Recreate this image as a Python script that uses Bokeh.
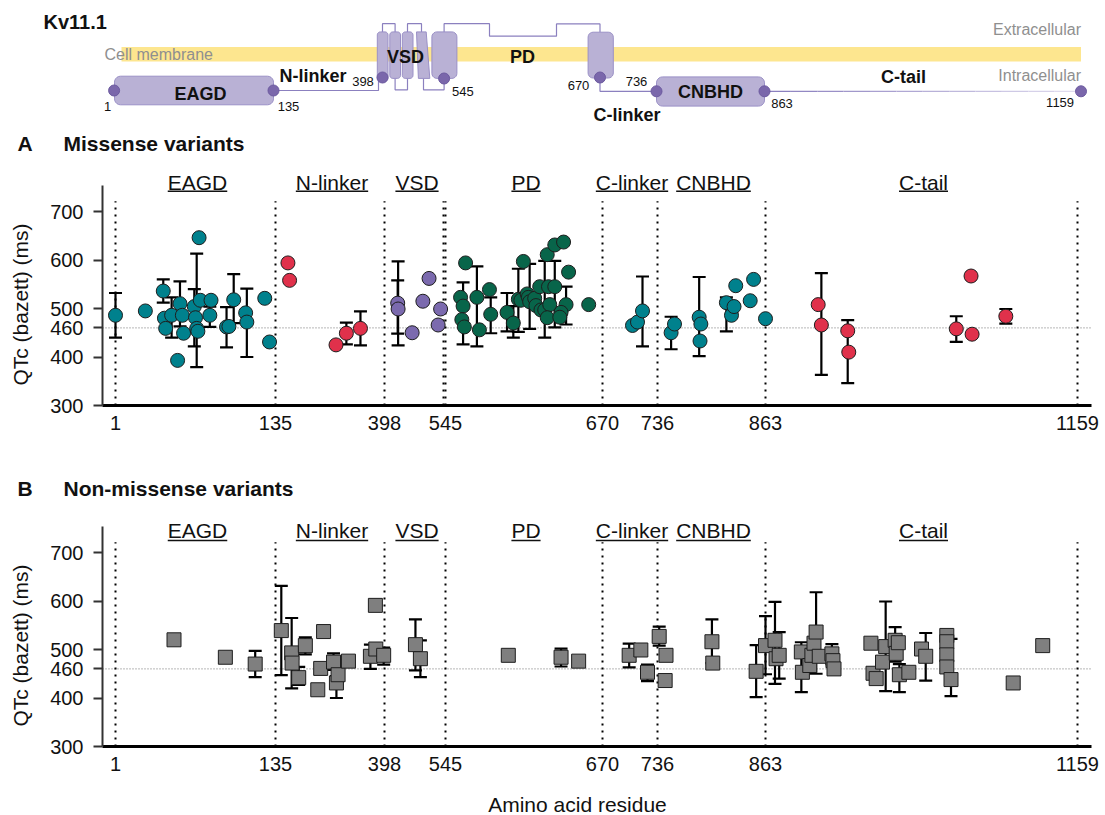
import numpy as np
from bokeh.plotting import figure
from bokeh.layouts import column, row
from bokeh.models import Range1d, FixedTicker, Span
from bokeh.core.properties import value
from bokeh.embed import file_html
from bokeh.resources import INLINE

FONT = "Liberation Sans"

# ---------------- data ----------------
domains = ["EAGD", "N-linker", "VSD", "PD", "C-linker", "CNBHD", "C-tail"]
domain_edges = [1, 135, 398, 545, 670, 736, 863, 1159]
residue_ticks = [1, 135, 398, 545, 670, 736, 863, 1159]
qtc_ticks = [300, 400, 460, 500, 600, 700]
qtc_cutoff = 460

# Panel A - missense variants
eagd_res = [1, 26, 41, 42, 43, 48, 53, 55, 57, 58, 67, 68, 69, 70, 71, 72, 81, 80, 94, 96, 100, 110, 111, 126, 130]
eagd_qtc = [486, 495, 536, 480, 459, 486, 393, 510, 486, 449, 504, 481, 459, 453, 646, 517, 517, 486, 462, 463, 518, 491, 472, 521, 431]
eagd_bar_res = [1, 41, 48, 55, 67, 69, 80, 94, 100, 111]
eagd_bar_lo = [440, 512, 440, 463, 422, 379, 462, 420, 470, 400]
eagd_bar_hi = [532, 560, 523, 556, 540, 613, 504, 503, 571, 541]

nlink_res = [165, 169, 281, 306, 340]
nlink_qtc = [594, 558, 425, 449, 459]
nlink_bar_res = [306, 340]
nlink_bar_lo = [426, 424]
nlink_bar_hi = [471, 494]

vsd_res = [430, 431, 465, 491, 506, 528, 534]
vsd_qtc = [511, 499, 450, 515, 562, 466, 499]
vsd_bar_res = [430, 431]
vsd_bar_lo = [448, 424]
vsd_bar_hi = [558, 597]

pd_res = [561, 557, 559, 558, 560, 570, 572, 580, 581, 594, 599, 603, 607, 605, 610, 611, 612,
          616, 617, 620, 621, 624, 627, 628, 626, 626, 632, 639, 632, 643, 641, 637, 636, 659]
pd_qtc = [594, 523, 505, 477, 462, 523, 456, 539, 488, 492, 470, 519, 597, 517, 530, 523, 514,
          521, 506, 545, 497, 497, 545, 508, 481, 611, 631, 637, 545, 575, 508, 492, 482, 508]
pd_bar_res = [559, 570, 581, 594, 599, 603, 612, 624, 632, 641]
pd_bar_lo = [426, 422, 449, 453, 440, 452, 458, 440, 461, 467]
pd_bar_hi = [554, 587, 523, 532, 505, 582, 592, 598, 598, 545]

clink_res = [706, 712, 718]
clink_qtc = [465, 472, 495]
clink_bar_res = [718]
clink_bar_lo = [422]
clink_bar_hi = [566]

cnbhd_res = [752, 756, 785, 787, 786, 817, 823, 826, 828, 845, 849, 863]
cnbhd_qtc = [450, 468, 482, 468, 433, 512, 486, 504, 547, 516, 560, 479]
cnbhd_bar_res = [752, 785, 817]
cnbhd_bar_lo = [416, 402, 453]
cnbhd_bar_hi = [483, 565, 523]

ctail_res = [913, 916, 941, 942, 1044, 1058, 1059, 1091]
ctail_qtc = [508, 466, 454, 410, 458, 567, 447, 484]
ctail_bar_res = [916, 941, 1044, 1091]
ctail_bar_lo = [363, 346, 431, 469]
ctail_bar_hi = [573, 476, 484, 499]

# Panel B - non-missense variants
nm_res = [50, 93, 118, 149, 174, 175, 191, 207, 244, 237, 251, 275, 282, 286, 311, 364, 376, 377, 396, 473,
          485, 595, 637, 651, 702, 716, 724, 738, 746, 745, 800, 801, 852, 863, 872, 873, 876, 897, 898, 905,
          907, 909, 911, 914, 926, 927, 928, 963, 965, 968, 974, 977, 986, 987, 989, 990, 999, 1011, 1015,
          1035, 1035, 1035, 1035, 1039, 1098, 1126]
nm_qtc = [520, 484, 470, 539, 493, 472, 442, 508, 461, 417, 537, 474, 431, 448, 476, 486, 591, 501, 488, 510,
          481, 488, 484, 476, 488, 499, 453, 527, 488, 436, 516, 472, 455, 508, 519, 481, 488, 495, 453, 467,
          488, 513, 536, 486, 491, 477, 460, 513, 451, 440, 474, 506, 519, 492, 514, 448, 453, 501, 486,
          529, 516, 489, 464, 438, 431, 508]
nm_bar_res = [118, 149, 174, 191, 207, 275, 282, 364, 396, 473, 485, 637, 702, 724, 738, 800, 852, 863,
              872, 876, 897, 911, 926, 977, 986, 990, 1015, 1039]
nm_bar_lo = [443, 447, 420, 427, 490, 458, 400, 460, 469, 457, 443, 465, 463, 435, 508, 472, 402, 449,
             429, 440, 412, 450, 470, 414, 475, 412, 436, 404]
nm_bar_hi = [497, 631, 565, 464, 525, 492, 445, 510, 504, 562, 519, 502, 512, 469, 547, 562, 509, 569,
             598, 536, 515, 618, 511, 599, 546, 470, 534, 522]

# ---------------- styles / layout ----------------
TEAL = "#00818d"
RED = "#e0314b"
PURPLE = "#7b6aae"
GREEN = "#08654a"
GREY = "#7f7f7f"
EDGE = "#1e1e1e"
INK = "#111111"

W = 1105
YL = 40                   # width of the strip holding the rotated y-axis title
XR = (102, 1091)          # horizontal screen span of the data frames
PX_PER_MS = 0.485
FRAME_H = 240
YR = (300, 300 + FRAME_H / PX_PER_MS)

# piecewise display scale (domains drawn with different widths)
MAP_RES = [1, 135, 398, 541, 545, 670, 736, 863, 1159]
MAP_PX = [115, 275, 384, 443, 445, 602, 657, 765, 1077]


def disp(r):
    return np.interp(np.asarray(r, dtype=float), MAP_RES, MAP_PX)


CW = {'E': .667, 'A': .667, 'G': .778, 'D': .722, 'N': .722, '-': .333, 'l': .222, 'i': .222, 'n': .556,
      'k': .5, 'e': .556, 'r': .333, 'V': .667, 'S': .667, 'P': .667, 'C': .722, 'B': .667, 'H': .722,
      't': .278, 'a': .556}


def text_w(s, size):
    return sum(CW.get(c, 0.556) for c in s) * size


def no_align(fig):
    try:
        fig.frame_align = False
    except Exception:
        pass
    return fig


def plain(width, height, xr, yr, **borders):
    f = figure(width=width, height=height, x_range=Range1d(*xr), y_range=Range1d(*yr),
               toolbar_location=None, output_backend="svg", outline_line_color=None,
               x_axis_type=None, y_axis_type=None, **borders)
    f.xgrid.visible = False
    f.ygrid.visible = False
    return no_align(f)


def txt(fig, x, y, text, size, bold=False, align="left", color=INK, angle=0.0):
    fig.text(x=x, y=y, text=text, text_font=value(FONT), text_font_size=value(size),
             text_font_style="bold" if bold else "normal", text_align=align, text_baseline="middle",
             text_color=color, angle=angle)


def draw_group(p, res, qtc, bres, blo, bhi, marker, color):
    if len(bres):
        xb = disp(bres)
        p.segment(x0=xb, y0=blo, x1=xb, y1=bhi, line_color="black", line_width=2.2)
        ys = list(blo) + list(bhi)
        xx = np.concatenate([xb, xb])
        p.segment(x0=xx - 6.5, y0=ys, x1=xx + 6.5, y1=ys, line_color="black", line_width=2.2)
    p.scatter(disp(res), qtc, marker=marker, size=14, fill_color=color, line_color=EDGE, line_width=1)


def make_panel(height, top_border, base_px, label_px, uline_px, boundary_res):
    # base_px: page y of the 300 ms baseline
    def val(ypx):
        return 300 + (base_px - ypx) / PX_PER_MS
    bottom_border = height - top_border - FRAME_H
    p = figure(width=W - YL, height=height, x_range=Range1d(*XR), y_range=Range1d(*YR),
               toolbar_location=None, output_backend="svg",
               min_border_left=XR[0] - YL, min_border_right=W - XR[1], min_border_top=top_border,
               min_border_bottom=bottom_border, outline_line_color=None)
    no_align(p)
    p.xgrid.visible = False
    p.ygrid.visible = False

    ya = p.yaxis[0]
    ya.ticker = FixedTicker(ticks=qtc_ticks)
    ya.bounds = (300, 753)
    ya.axis_line_color = "#333333"
    ya.axis_line_width = 2
    ya.major_tick_line_color = "#333333"
    ya.major_tick_line_width = 2
    ya.major_tick_out = 9
    ya.major_tick_in = 0
    ya.minor_tick_line_color = None
    ya.major_label_text_font = FONT
    ya.major_label_text_font_size = "20px"
    ya.major_label_text_color = INK
    ya.major_label_standoff = 10

    tick_pos = [float(v) for v in disp(residue_ticks)]
    xa = p.xaxis[0]
    xa.ticker = FixedTicker(ticks=tick_pos)
    xa.major_label_overrides = {pos: str(r) for pos, r in zip(tick_pos, residue_ticks)}
    xa.axis_line_color = "black"
    xa.axis_line_width = 3
    xa.major_tick_line_color = None
    xa.major_tick_out = 0
    xa.major_tick_in = 0
    xa.minor_tick_line_color = None
    xa.major_label_text_font = FONT
    xa.major_label_text_font_size = "20px"
    xa.major_label_text_color = INK
    xa.major_label_standoff = 10

    # domain boundaries
    bx = disp(boundary_res)
    p.segment(x0=bx, y0=300, x1=bx, y1=721, line_color="black", line_width=2, line_dash="2 5")

    # 460 ms threshold
    p.add_layout(Span(location=qtc_cutoff, dimension="width", line_color="#6f6f6f", line_width=1,
                      line_dash="1 2", level="underlay"))

    # domain labels, underlined
    lx = (disp(domain_edges[:-1]) + disp(domain_edges[1:])) / 2 + 2
    txt(p, lx, [val(label_px)] * len(domains), domains, "21px", align="center")
    w = np.array([text_w(d, 21) for d in domains])
    p.segment(x0=lx - w / 2, y0=val(uline_px), x1=lx + w / 2, y1=val(uline_px), line_color=INK, line_width=1.6)

    # strip at the left carrying the y-axis title (same vertical frame as the panel)
    yl = plain(YL, height, (0, YL), YR, min_border_left=0, min_border_right=0,
               min_border_top=top_border, min_border_bottom=bottom_border)
    txt(yl, [20], [val(base_px - 101)], ["QTc (bazett) (ms)"], "21px", align="center", angle=np.pi / 2)
    return row(yl, p), p


# ---------------- schematic (page-pixel coordinates) ----------------
s = plain(W, 163, (0, W), (163, 0), min_border=0)

LAV = "#b9b1d5"
LAV_LINE = "#9a90c6"
LOOP = "#8b80bf"
DOT = "#7a67ab"


def rrect(x0, x1, y0, y1, r, n=6):
    xs, ys = [], []
    for cx, cy, a0 in [(x1 - r, y0 + r, -90), (x1 - r, y1 - r, 0), (x0 + r, y1 - r, 90), (x0 + r, y0 + r, 180)]:
        for a in np.linspace(a0, a0 + 90, n):
            xs.append(cx + r * np.cos(np.radians(a)))
            ys.append(cy + r * np.sin(np.radians(a)))
    return xs, ys


s.quad(left=121, right=1080.5, top=46.5, bottom=61, fill_color="#fde68f", line_color=None)
txt(s, [104], [53.5], ["Cell membrane"], "16px", color="#8f8f8f")
txt(s, [1080.5, 1080.5], [29, 74.5], ["Extracellular", "Intracellular"], "16px", align="right", color="#8f8f8f")

loops_x = [[273, 378, 378],
           [382, 382, 394.6, 394.6],
           [394.6, 394.6, 407, 407],
           [407, 407, 421, 421],
           [423, 423, 443.6, 443.6],
           [443.6, 443.6, 489, 489, 556, 556, 599.5, 599.5],
           [599.5, 599.5, 656]]
loops_y = [[90, 90, 80],
           [31.4, 23.2, 23.2, 31.4],
           [77.9, 89.3, 89.3, 77.9],
           [31.4, 23.2, 23.2, 31.4],
           [77.9, 89.3, 89.3, 77.9],
           [31.4, 23.2, 23.2, 35.7, 35.7, 23.4, 23.4, 31.7],
           [77, 90.8, 90.8]]
s.multi_line(xs=loops_x, ys=loops_y, line_color=LOOP, line_width=1.2)

ct = np.linspace(764, 1080.5, 13)
c0 = np.array([139, 128, 191])
c1 = np.array([222, 218, 238])
cols = ["#%02x%02x%02x" % tuple((c0 + (c1 - c0) * t).astype(int)) for t in np.linspace(0, 1, 12)]
s.segment(x0=ct[:-1], y0=90.8, x1=ct[1:], y1=90.8, line_color=cols, line_width=1.3)

shapes = [rrect(114, 273, 75.7, 104.3, 6), rrect(656, 764, 76.4, 105.6, 6),
          rrect(376.8, 387.5, 31.4, 80.4, 3), rrect(389.3, 400, 31.4, 77.9, 3),
          rrect(401.8, 412.5, 31.4, 77.9, 3),
          ([416, 425.7, 429.3, 417.9], [31.4, 31.4, 77.9, 77.9]),
          rrect(431.4, 456.4, 31.4, 77.9, 5), rrect(587.6, 612.8, 31.7, 77.5, 5)]
s.patches(xs=[a for a, b in shapes], ys=[b for a, b in shapes], fill_color=LAV, line_color=LAV_LINE,
          line_width=1)

SCH_PX = [113.6, 273, 382, 443.6, 599.5, 656, 764, 1080.5]
sch_y = [90, 90, 77, 78, 77, 90.8, 90.8, 90.8]
s.scatter(np.interp(residue_ticks, residue_ticks, SCH_PX), sch_y, size=11, fill_color=DOT,
          line_color="#6c5a9f", line_width=1)

txt(s, [107, 288, 362.5, 462.4, 578, 636, 781.5, 1059.6], [106.4, 106.4, 81.4, 91, 85.4, 81, 102.7, 101.6],
    [str(r) for r in residue_ticks], "13px", align="center")
txt(s, [200, 312.5, 405, 522, 626.5, 710, 903], [93.6, 75, 56.4, 56, 114.6, 91.9, 76.4],
    ["EAGD", "N-linker", "VSD", "PD", "C-linker", "CNBHD", "C-tail"], "18px", bold=True, align="center")
txt(s, [43], [21.5], ["Kv11.1"], "20px", bold=True)
txt(s, [17, 63], [142.5, 142.5], ["A", "Missense variants"], "21px", bold=True)

# ---------------- panel A (page y 163..465, baseline at 405) ----------------
rowA, pA = make_panel(302, 2, 405 - 163, 182 - 163, 190.7 - 163,
                      [1, 135, 398, 541, 545, 670, 736, 863, 1159])
draw_group(pA, eagd_res, eagd_qtc, eagd_bar_res, eagd_bar_lo, eagd_bar_hi, "circle", TEAL)
draw_group(pA, nlink_res, nlink_qtc, nlink_bar_res, nlink_bar_lo, nlink_bar_hi, "circle", RED)
draw_group(pA, vsd_res, vsd_qtc, vsd_bar_res, vsd_bar_lo, vsd_bar_hi, "circle", PURPLE)
draw_group(pA, pd_res, pd_qtc, pd_bar_res, pd_bar_lo, pd_bar_hi, "circle", GREEN)
draw_group(pA, clink_res, clink_qtc, clink_bar_res, clink_bar_lo, clink_bar_hi, "circle", TEAL)
draw_group(pA, cnbhd_res, cnbhd_qtc, cnbhd_bar_res, cnbhd_bar_lo, cnbhd_bar_hi, "circle", TEAL)
draw_group(pA, ctail_res, ctail_qtc, ctail_bar_res, ctail_bar_lo, ctail_bar_hi, "circle", RED)

# ---------------- title strip B (page y 465..505) ----------------
t = plain(W, 40, (0, W), (505, 465), min_border=0)
txt(t, [17, 63], [488, 488], ["B", "Non-missense variants"], "21px", bold=True)

# ---------------- panel B (page y 505..790, baseline at 746) ----------------
rowB, pB = make_panel(285, 1, 746 - 505, 530 - 505, 540 - 505,
                      [1, 135, 398, 545, 670, 736, 863, 1159])
draw_group(pB, nm_res, nm_qtc, nm_bar_res, nm_bar_lo, nm_bar_hi, "square", GREY)

# ---------------- x-axis title strip (page y 790..815) ----------------
xl = plain(W, 25, XR, (815, 790), min_border_left=XR[0], min_border_right=W - XR[1],
           min_border_top=0, min_border_bottom=0)
txt(xl, [577], [804], ["Amino acid residue"], "21px", align="center")

layout = column(s, rowA, t, rowB, xl)
open("out.html", "w").write(file_html(layout, INLINE))
